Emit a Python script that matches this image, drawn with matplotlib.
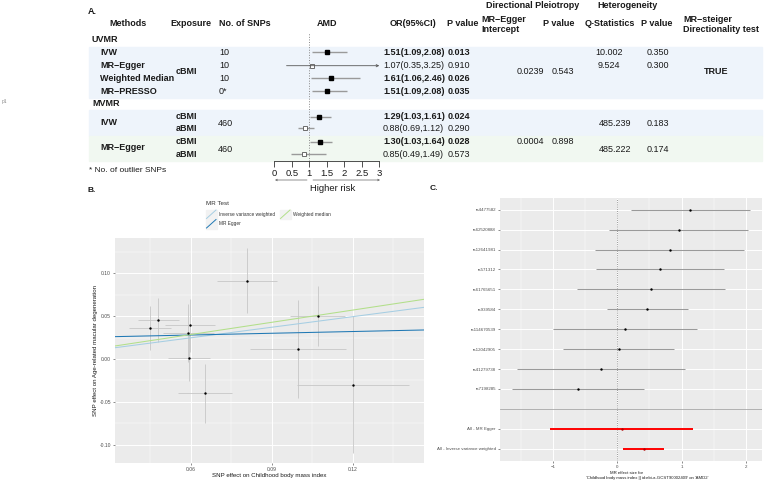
import numpy as np
import matplotlib.pyplot as plt
from matplotlib.patches import Rectangle
from matplotlib.lines import Line2D

plt.rcParams['font.family'] = ['Liberation Sans', 'DejaVu Sans']

# ---------------- Panel A data ----------------
uv_methods = ['IVW', 'MR−Egger', 'Weighted Median', 'MR−PRESSO']
uv_nsnp = ['10', '10', '10', '0*']
uv_or = [1.51, 1.07, 1.61, 1.51]
uv_lo = [1.09, 0.35, 1.06, 1.09]
uv_hi = [2.08, 3.25, 2.46, 2.08]
uv_p = [0.013, 0.910, 0.026, 0.035]
uv_q = ['10.002', '9.524']
uv_qp = ['0.350', '0.300']
uv_egger_int = '0.0239'
uv_egger_p = '0.543'
uv_steiger = 'TRUE'

mv_methods = ['IVW', 'MR−Egger']
mv_exposure = ['cBMI', 'aBMI', 'cBMI', 'aBMI']
mv_nsnp = ['460', '460']
mv_or = [1.29, 0.88, 1.30, 0.85]
mv_lo = [1.03, 0.69, 1.03, 0.49]
mv_hi = [1.61, 1.12, 1.64, 1.49]
mv_p = [0.024, 0.290, 0.028, 0.573]
mv_q = ['485.239', '485.222']
mv_qp = ['0.183', '0.174']
mv_egger_int = '0.0004'
mv_egger_p = '0.898'

or_ticks = [0, 0.5, 1, 1.5, 2, 2.5, 3]
or_ticklabels = ['0', '0.5', '1', '1.5', '2', '2.5', '3']

# ---------------- Panel B data ----------------
snp_bx = [0.0449, 0.0480, 0.0596, 0.0591, 0.0593, 0.0653, 0.0807, 0.0995, 0.1069, 0.1200]
snp_bx_se = [0.0079, 0.0077, 0.0093, 0.0095, 0.0077, 0.0099, 0.0112, 0.0178, 0.0101, 0.0206]
snp_by = [0.0363, 0.0453, 0.0391, 0.0305, 0.0016, -0.0398, 0.0914, 0.0117, 0.0500, -0.0301]
snp_by_se = [0.0260, 0.0258, 0.0310, 0.0340, 0.0274, 0.0344, 0.0377, 0.0576, 0.0346, 0.0800]
mr_names = ['Inverse variance weighted', 'MR Egger', 'Weighted median']
mr_slopes = [0.412, 0.068, 0.476]
mr_intercepts = [0.0, 0.0239, 0.0]
mr_colors = ['#A6CEE3', '#1F78B4', '#B2DF8A']

# ---------------- Panel C data ----------------
snp_ids = ['rs4477582', 'rs62520888', 'rs12641981', 'rs571312', 'rs61765651',
           'rs939584', 'rs114670539', 'rs12042905', 'rs41279738', 'rs7198285']
snp_b = [1.135, 0.953, 0.813, 0.658, 0.518, 0.461, 0.119, 0.021, -0.254, -0.611]
snp_lo = [0.207, -0.124, -0.342, -0.332, -0.632, -0.161, -1.000, -0.845, -1.554, -1.632]
snp_hi = [2.062, 2.031, 1.969, 1.658, 1.679, 1.093, 1.238, 0.886, 1.052, 0.409]
all_labels = ['All - MR Egger', 'All - Inverse variance weighted']
all_b = [0.067, 0.409]
all_lo = [-1.041, 0.088]
all_hi = [1.176, 0.725]

W, H = 766, 483
fig = plt.figure(figsize=(W / 100, H / 100), dpi=100)

# overlay in pixel coordinates
ax0 = fig.add_axes([0, 0, 1, 1])
ax0.set_xlim(0, W)
ax0.set_ylim(H, 0)
ax0.axis('off')

TXT = '#1a1a1a'
FS = 6.5


def t(x, y, s, bold=False, ha='left', fs=FS, **kw):
    ax0.text(x, y, s, ha=ha, va='center', fontsize=fs, color=kw.pop('color', TXT),
             fontweight='bold' if bold else 'normal', **kw)


t(2, 101, 'p1', fs=3.5, color='#888888')

# ---------- Panel A ----------
t(88, 11, 'A.', bold=True)
ax0.add_patch(Rectangle((89, 46.5), 673, 51, color='#EEF4FB', zorder=0))
ax0.add_patch(Rectangle((89, 110), 673, 25.5, color='#EEF4FB', zorder=0))
ax0.add_patch(Rectangle((89, 135.5), 673, 25.5, color='#F1F8F1', zorder=0))

t(533, 5, 'Directional Pleiotropy', bold=True, ha='center')
t(627, 5, 'Heterogeneity', bold=True, ha='center')
hy = 23
t(128, hy, 'Methods', bold=True, ha='center')
t(191, hy, 'Exposure', bold=True, ha='center')
t(245, hy, 'No. of SNPs', bold=True, ha='center')
t(327, hy, 'AMD', bold=True, ha='center')
t(413, hy, 'OR(95%CI)', bold=True, ha='center')
t(463, hy, 'P value', bold=True, ha='center')
t(481, 20, 'MR−Egger', bold=True)
t(481, 29, 'Intercept', bold=True)
t(559, hy, 'P value', bold=True, ha='center')
t(610, hy, 'Q-Statistics', bold=True, ha='center')
t(657, hy, 'P value', bold=True, ha='center')
t(683, 20, 'MR−steiger', bold=True)
t(683, 29.5, 'Directionality test', bold=True)

t(92, 40, 'UVMR', bold=True)
t(92, 103.5, 'MVMR', bold=True)

uv_y = [52.3, 65.7, 78.3, 91]
mv_y = [116.7, 128.3, 141.7, 154.3]

for i, y in enumerate(uv_y):
    t(100, y, uv_methods[i], bold=True)
    t(219, y, uv_nsnp[i])
    sig = uv_p[i] < 0.05
    t(383, y, f'{uv_or[i]:.2f}({uv_lo[i]:.2f},{uv_hi[i]:.2f})', bold=sig)
    t(447.5, y, f'{uv_p[i]:.3f}', bold=sig)
t(176, 71.7, 'cBMI', bold=True)
t(530, 71.7, uv_egger_int, ha='center')
t(563, 71.7, uv_egger_p, ha='center')
for i in range(2):
    t(609, uv_y[i], uv_q[i], ha='center')
    t(658, uv_y[i], uv_qp[i], ha='center')
t(716, 71.7, uv_steiger, bold=True, ha='center')

for i, y in enumerate(mv_y):
    t(176, y, mv_exposure[i], bold=True)
    sig = mv_p[i] < 0.05
    t(383, y, f'{mv_or[i]:.2f}({mv_lo[i]:.2f},{mv_hi[i]:.2f})', bold=sig)
    t(447.5, y, f'{mv_p[i]:.3f}', bold=sig)
for k, (ya, yb) in enumerate([(122.5, 124), (148, 149.3)]):
    t(100, ya, mv_methods[k], bold=True)
    t(218, yb, mv_nsnp[k])
    t(615, yb, mv_q[k], ha='center')
    t(658, yb, mv_qp[k], ha='center')
t(530, 141, mv_egger_int, ha='center')
t(563, 141, mv_egger_p, ha='center')

t(89, 170, '* No. of outlier SNPs', fs=6)

# forest in panel A
fa = fig.add_axes([274.3 / W, 1 - 161 / H, 105 / W, (161 - 30) / H])
fa.patch.set_alpha(0)
fa.set_xlim(0, 3)
fa.set_ylim(161, 30)
for s in ['top', 'left', 'right']:
    fa.spines[s].set_visible(False)
fa.spines['bottom'].set_color('#333333')
fa.spines['bottom'].set_linewidth(0.6)
fa.set_yticks([])
fa.set_xticks(or_ticks)
fa.set_xticklabels(or_ticklabels, fontsize=6.8, color=TXT)
fa.tick_params(axis='x', length=4, width=0.6, color='#333333', pad=2)
fa.axvline(1, ymin=0.0, ymax=0.98, color='#888888', ls=':', lw=0.7)

f_y = uv_y + mv_y
f_or = uv_or + mv_or
f_lo = uv_lo + mv_lo
f_hi = uv_hi + mv_hi
f_p = uv_p + mv_p
for y, o, lo, hi, p in zip(f_y, f_or, f_lo, f_hi, f_p):
    if hi > 3:
        fa.annotate('', xy=(3, y), xytext=(lo, y),
                    arrowprops=dict(arrowstyle='->', color='#555555', lw=0.6,
                                    shrinkA=0, shrinkB=0, mutation_scale=4))
    else:
        fa.plot([lo, hi], [y, y], color='#9a9a9a', lw=1.0, solid_capstyle='butt')
    if p < 0.05:
        fa.plot(o, y, 's', ms=3, color='black')
    else:
        fa.plot(o, y, 's', ms=3, mfc='white', mec='#555555', mew=0.6)

ax0.annotate('', xy=(275, 180), xytext=(307, 180),
             arrowprops=dict(arrowstyle='->', color='#666666', lw=0.5, shrinkA=0, shrinkB=0,
                             mutation_scale=3))
ax0.annotate('', xy=(380, 180), xytext=(313, 180),
             arrowprops=dict(arrowstyle='->', color='#666666', lw=0.5, shrinkA=0, shrinkB=0,
                             mutation_scale=3))
t(333, 188.5, 'Higher risk', ha='center', fs=6.8)

# ---------- Panel B ----------
t(88, 191, 'B.', bold=True, fs=6)
t(206, 203.3, 'MR Test', fs=4.5, color='#333333')
key_pos = [(206, 209.5), (206, 219), (280, 209.5)]
for (kx, ky), name, col in zip(key_pos, mr_names, mr_colors):
    ax0.add_patch(Rectangle((kx, ky), 10.5, 9.5, color='#F2F2F2', zorder=1))
    ax0.add_line(Line2D([kx + 0.5, kx + 10], [ky + 9, ky + 0.5], color=col, lw=0.7, zorder=2))
    t(kx + 13, ky + 4.8, name, fs=3.4, color='#333333')

axb = fig.add_axes([115 / W, 1 - 463 / H, 309 / W, 225 / H])
axb.set_facecolor('#EBEBEB')
axb.set_axisbelow(True)
axb.errorbar(snp_bx, snp_by, xerr=snp_bx_se, yerr=snp_by_se, fmt='none',
             ecolor='#C6C6C6', elinewidth=0.6, capsize=0, zorder=2)
axb.scatter(snp_bx, snp_by, s=3, color='black', zorder=4, linewidths=0)
for sl, ic, col in zip(mr_slopes, mr_intercepts, mr_colors):
    axb.axline((0, ic), slope=sl, color=col, lw=0.75, zorder=3)
axb.set_xlim(0.0319, 0.1463)
axb.set_ylim(-0.1214, 0.1412)
axb.set_xticks([0.06, 0.09, 0.12])
axb.set_xticklabels(['0.06', '0.09', '0.12'])
axb.set_xticks([0.045, 0.075, 0.105, 0.135], minor=True)
axb.set_yticks([-0.10, -0.05, 0.0, 0.05, 0.10])
axb.set_yticklabels(['-0.10', '-0.05', '0.00', '0.05', '0.10'])
axb.set_yticks([-0.075, -0.025, 0.025, 0.075, 0.125], minor=True)
axb.grid(which='major', color='white', lw=0.7)
axb.grid(which='minor', color='white', lw=0.35)
axb.tick_params(which='major', length=1.5, width=0.4, color='#333333',
                labelsize=3.6, labelcolor='#4D4D4D', pad=1.5)
axb.tick_params(which='minor', length=0)
for s in axb.spines.values():
    s.set_visible(False)
t(269, 475, 'SNP effect on Childhood body mass index', ha='center', fs=4.4)
ax0.text(96, 350, 'SNP effect on Age-related macular degeneration', ha='center', va='center',
         rotation=90, fontsize=4.4, color=TXT)

# ---------- Panel C ----------
t(430, 188, 'C.', bold=True, fs=6)
axc = fig.add_axes([500 / W, 1 - 460.7 / H, 262 / W, 263 / H])
axc.set_facecolor('#EBEBEB')
axc.set_axisbelow(True)
n = len(snp_ids)
rows = np.arange(1, n + 1)
sep_row = n + 1
all_rows = np.array([n + 2, n + 3])
axc.axhline(sep_row, color='#A8A8A8', lw=0.6, zorder=1)
axc.axvline(0, color='#777777', ls=':', lw=0.6, zorder=1)
axc.hlines(rows, snp_lo, snp_hi, color='#9a9a9a', lw=0.75, zorder=2)
axc.scatter(snp_b, rows, s=3, color='black', zorder=3, linewidths=0)
axc.hlines(all_rows, all_lo, all_hi, color='#FF0000', lw=1.4, zorder=2)
axc.scatter(all_b, all_rows, s=3, color='#B00000', zorder=3, linewidths=0)
axc.set_xlim(-1.825, 2.25)
axc.set_ylim(n + 3.6, 0.4)
axc.set_xticks([-1, 0, 1, 2])
axc.set_xticks([-1.5, -0.5, 0.5, 1.5], minor=True)
axc.set_yticks(list(rows) + list(all_rows))
axc.set_yticklabels(snp_ids + all_labels)
axc.grid(which='major', color='white', lw=0.7)
axc.grid(which='minor', axis='x', color='white', lw=0.35)
axc.tick_params(which='major', length=1.5, width=0.4, color='#333333',
                labelsize=3.2, labelcolor='#4D4D4D', pad=1.5)
axc.tick_params(which='minor', length=0)
for s in axc.spines.values():
    s.set_visible(False)
t(627, 473.3, 'MR effect size for', ha='center', fs=3.1)
t(647, 478, "'Childhood body mass index || id:ebi-a-GCST90002409' on 'AMD2'", ha='center', fs=3.1)

fig.savefig('out.png', dpi=100)
